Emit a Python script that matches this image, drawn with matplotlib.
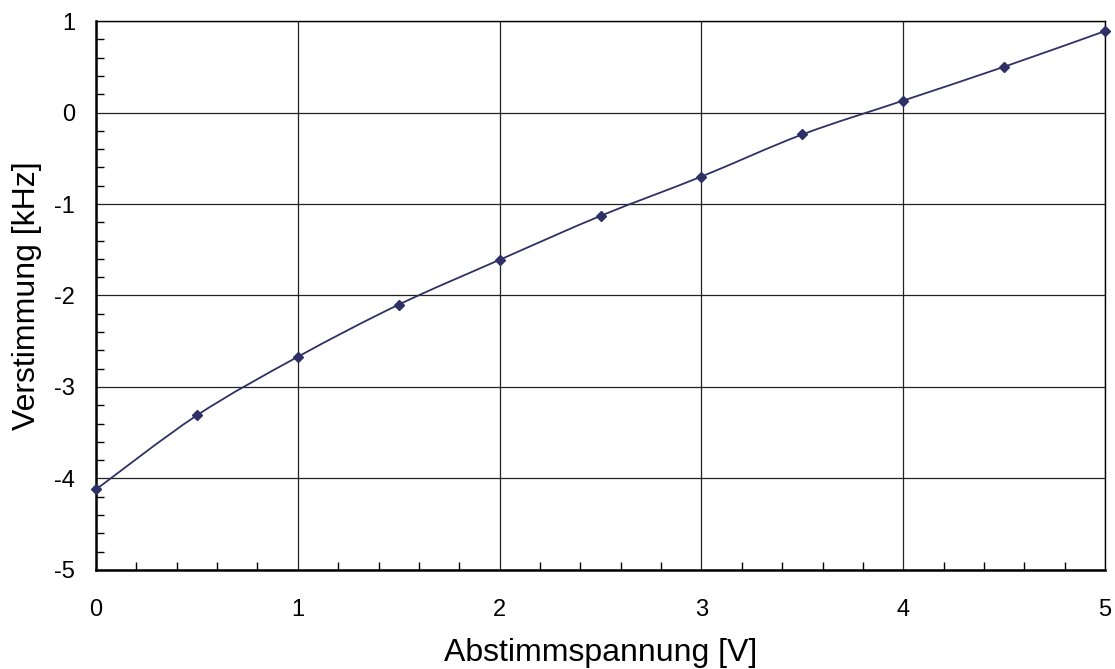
import numpy as np
import matplotlib.pyplot as plt
from matplotlib.path import Path
from matplotlib.patches import PathPatch
from matplotlib.ticker import MultipleLocator

plt.rcParams['font.family'] = ['Liberation Sans', 'DejaVu Sans']
plt.rcParams['axes.unicode_minus'] = False
plt.rcParams['xtick.labelsize'] = 17
plt.rcParams['ytick.labelsize'] = 17

# measured data
spannung = [0, 0.5, 1, 1.5, 2, 2.5, 3, 3.5, 4, 4.5, 5]
verstimmung = [-4.12, -3.31, -2.67, -2.10, -1.61, -1.13, -0.70, -0.24, 0.13, 0.50, 0.89]

line_color = '#2e3166'

fig = plt.figure(figsize=(11.15, 6.69), dpi=100)
ax = fig.add_axes([0.0861, 0.148, 0.905, 0.8206])

# smoothed line through the points (Catmull-Rom -> cubic Bezier, like Excel)
x = np.array(spannung, dtype=float)
y = np.array(verstimmung, dtype=float)
verts = [(x[0], y[0])]
codes = [Path.MOVETO]
n = len(x)
for i in range(n - 1):
    x0, y0 = (x[i - 1], y[i - 1]) if i > 0 else (x[i], y[i])
    x3, y3 = (x[i + 2], y[i + 2]) if i + 2 < n else (x[i + 1], y[i + 1])
    c1 = (x[i] + (x[i + 1] - x0) / 6, y[i] + (y[i + 1] - y0) / 6)
    c2 = (x[i + 1] - (x3 - x[i]) / 6, y[i + 1] - (y3 - y[i]) / 6)
    verts += [c1, c2, (x[i + 1], y[i + 1])]
    codes += [Path.CURVE4] * 3
ax.add_patch(PathPatch(Path(verts, codes), fill=False, edgecolor=line_color,
                       lw=1.3, zorder=3, clip_on=False))
ax.plot(spannung, verstimmung, linestyle='none', marker='D', ms=5.5,
        color=line_color, zorder=4, clip_on=False)

ax.set_xlim(0, 5)
ax.set_ylim(-5, 1)
ax.xaxis.set_major_locator(MultipleLocator(1))
ax.yaxis.set_major_locator(MultipleLocator(1))
ax.xaxis.set_minor_locator(MultipleLocator(0.2))
ax.yaxis.set_minor_locator(MultipleLocator(0.2))
ax.grid(True, which='major', color='#222222', lw=0.9)
ax.set_axisbelow(True)

ax.tick_params(axis='x', which='major', length=0, pad=21)
ax.tick_params(axis='y', which='major', length=0, pad=15)
ax.tick_params(which='minor', direction='in', length=6, width=1, color='black')
for side in ['top', 'right']:
    ax.spines[side].set_linewidth(1.0)
for side in ['left', 'bottom']:
    ax.spines[side].set_linewidth(1.8)

ax.set_xlabel('Abstimmspannung [V]', fontsize=23, labelpad=12)
ax.set_ylabel('Verstimmung [kHz]', fontsize=23, labelpad=9)

fig.savefig('out.png', dpi=100)
